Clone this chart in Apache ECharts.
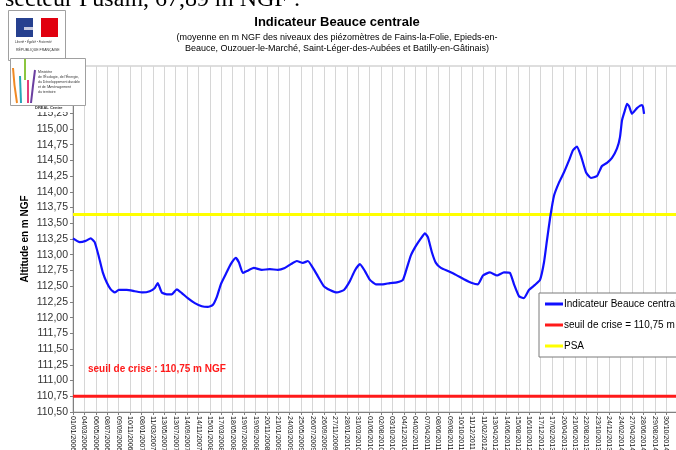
<!DOCTYPE html>
<html>
<head>
<meta charset="utf-8">
<script src="https://cdn.jsdelivr.net/npm/echarts@6/dist/echarts.min.js"></script>
<style>
  html, body { margin: 0; padding: 0; background: #fff; }
  #chart { width: 676px; height: 450px; }
</style>
</head>
<body>
<div id="chart"></div>
<script>
// dates shown under the x axis (one per grid column)
var tickLabels = [
  '01/01/2006', '04/03/2006', '06/05/2006', '08/07/2006', '09/09/2006', '10/11/2006',
  '08/01/2007', '11/03/2007', '13/05/2007', '13/07/2007', '14/09/2007', '14/11/2007',
  '15/01/2008', '17/03/2008', '18/05/2008', '19/07/2008', '19/09/2008', '20/11/2008',
  '21/01/2009', '24/03/2009', '25/05/2009', '26/07/2009', '26/09/2009', '27/11/2009',
  '28/01/2010', '31/03/2010', '01/06/2010', '02/08/2010', '03/10/2010', '04/12/2010',
  '04/02/2011', '07/04/2011', '08/06/2011', '09/08/2011', '10/10/2011', '11/12/2011',
  '11/02/2012', '13/04/2012', '14/06/2012', '15/08/2012', '16/10/2012', '17/12/2012',
  '17/02/2013', '20/04/2013', '21/06/2013', '22/08/2013', '23/10/2013', '24/12/2013',
  '24/02/2014', '27/04/2014', '28/06/2014', '29/08/2014', '30/10/2014'
];

// position of each reading along the axis (in tick-label units) and its level (m NGF)
var pos = [
  0.00, 0.59, 1.11, 1.55, 1.90, 2.25, 2.61, 2.96, 3.31, 3.66, 4.01, 4.71, 5.41, 6.11,
  6.73, 7.17, 7.43, 7.78, 8.22, 8.66, 9.10, 9.54, 10.06, 10.68, 11.29, 11.82, 12.25,
  12.61, 12.96, 13.39, 13.83, 14.27, 14.54, 14.89, 15.24, 15.85, 16.55, 17.25, 17.96,
  18.57, 19.10, 19.62, 20.15, 20.59, 21.03, 21.46, 21.99, 22.52, 23.13, 23.75, 24.27,
  24.71, 25.15, 25.59, 26.03, 26.55, 27.17, 27.78, 28.39, 28.92, 29.27, 29.62, 30.06,
  30.50, 30.85, 31.11, 31.46, 31.81, 32.25, 32.87, 33.57, 34.27, 34.97, 35.50, 35.94,
  36.55, 37.17, 37.78, 38.31, 38.66, 39.10, 39.53, 39.97, 40.50, 40.94, 41.29, 41.55,
  41.82, 42.17, 42.61, 43.04, 43.48, 43.83, 44.18, 44.53, 44.97, 45.40, 45.93, 46.37,
  46.81, 47.25, 47.69, 47.95, 48.13, 48.39, 48.57, 48.75, 49.00, 49.44, 49.88, 49.97,
  50.06
];
var level = [
  113.26, 113.20, 113.22, 113.26, 113.20, 112.98, 112.72, 112.56, 112.45, 112.40, 112.44,
  112.44, 112.42, 112.40, 112.42, 112.47, 112.55, 112.40, 112.37, 112.37, 112.45, 112.39,
  112.31, 112.23, 112.18, 112.17, 112.20, 112.33, 112.53, 112.69, 112.85, 112.95, 112.88,
  112.71, 112.74, 112.79, 112.76, 112.77, 112.76, 112.79, 112.85, 112.90, 112.87, 112.90,
  112.79, 112.66, 112.50, 112.44, 112.40, 112.44, 112.58, 112.75, 112.85, 112.74, 112.60,
  112.53, 112.53, 112.55, 112.56, 112.60, 112.79, 112.99, 113.14, 113.26, 113.34, 113.28,
  113.04, 112.87, 112.79, 112.74, 112.68, 112.61, 112.55, 112.53, 112.67, 112.72, 112.67,
  112.72, 112.71, 112.53, 112.34, 112.31, 112.44, 112.52, 112.60, 112.88, 113.23, 113.58,
  113.94, 114.15, 114.31, 114.50, 114.66, 114.72, 114.57, 114.31, 114.22, 114.25, 114.41,
  114.46, 114.54, 114.69, 114.87, 115.14, 115.30, 115.40, 115.36, 115.24, 115.33, 115.38,
  115.35, 115.24
];

var seuilCrise = 110.75;
var psa = 113.64;
var xMax = 54;

var indicateur = pos.map(function(p, i) { return [p, level[i]]; });

var chart = echarts.init(document.getElementById('chart'));
chart.setOption({
  animation: false,
  textStyle: { fontFamily: 'Liberation Sans, Arial, sans-serif' },
  title: {
    text: 'Indicateur Beauce centrale',
    subtext: '(moyenne en m NGF des niveaux des piézomètres de Fains-la-Folie, Epieds-en-\nBeauce, Ouzouer-le-Marché, Saint-Léger-des-Aubées et Batilly-en-Gâtinais)',
    left: 332,
    textAlign: 'center',
    top: 11,
    itemGap: 3,
    textStyle: { fontSize: 13, fontWeight: 'bold', color: '#000' },
    subtextStyle: { fontSize: 9, color: '#000', lineHeight: 11 }
  },
  grid: {
    left: 73,
    top: 66,
    bottom: 38,
    width: 616,
    outerBoundsMode: 'none',
    containLabel: false,
    show: true,
    borderColor: '#bdbdbd',
    borderWidth: 1
  },
  legend: {
    orient: 'vertical',
    left: 539,
    top: 293,
    padding: [6, 60, 6, 6],
    itemGap: 11,
    itemWidth: 18,
    itemHeight: 3,
    icon: 'rect',
    borderColor: '#7a7a7a',
    borderWidth: 1,
    backgroundColor: '#fff',
    textStyle: { fontSize: 10, color: '#000', padding: [0, 0, 0, -4] },
    data: ['Indicateur Beauce centrale', 'seuil de crise = 110,75 m', 'PSA']
  },
  xAxis: {
    type: 'value',
    min: 0,
    max: xMax,
    interval: 1,
    axisLine: { show: true, lineStyle: { color: '#808080' } },
    axisTick: { show: true, length: 3, lineStyle: { color: '#808080' } },
    splitLine: { show: true, lineStyle: { color: '#d6d6d6', width: 1 } },
    axisLabel: {
      rotate: -90,
      fontSize: 7,
      color: '#111',
      margin: 4,
      formatter: function(v) { return tickLabels[v] || ''; }
    }
  },
  yAxis: {
    type: 'value',
    min: 110.5,
    max: 116,
    interval: 0.25,
    name: 'Altitude en m NGF',
    nameLocation: 'middle',
    nameGap: 43,
    nameMoveOverlap: false,
    nameTextStyle: { fontSize: 10, fontWeight: 'bold', color: '#000' },
    axisLine: { show: true, lineStyle: { color: '#808080' } },
    axisTick: { show: true, length: 3, lineStyle: { color: '#808080' } },
    splitLine: { show: false },
    axisLabel: {
      fontSize: 10.5,
      color: '#333',
      margin: 5,
      formatter: function(v) { return v.toFixed(2).replace('.', ','); }
    }
  },
  series: [
    {
      name: 'Indicateur Beauce centrale',
      type: 'line',
      color: '#1010ff',
      showSymbol: false,
      smooth: 0.15,
      lineStyle: { width: 2.2, color: '#1010ff' },
      data: indicateur,
      z: 4
    },
    {
      name: 'seuil de crise = 110,75 m',
      type: 'line',
      color: '#ff1a1a',
      showSymbol: false,
      lineStyle: { width: 3, color: '#ff1a1a' },
      data: [[0, seuilCrise], [xMax, seuilCrise]],
      z: 3
    },
    {
      name: 'PSA',
      type: 'line',
      color: '#ffff00',
      showSymbol: false,
      lineStyle: { width: 3, color: '#ffff00' },
      data: [[0, psa], [xMax, psa]],
      z: 3
    }
  ],
  graphic: [
    // page text cut at the top
    {
      type: 'text', left: 5, top: -12, z: 10,
      style: { text: 'secteur Pusain, 67,89 m NGF :', font: '24px "Liberation Serif", serif', fill: '#000' }
    },
    // annotation inside the plot
    {
      type: 'text', left: 88, top: 364, z: 10,
      style: { text: 'seuil de crise : 110,75 m NGF', font: 'bold 10px "Liberation Sans", Arial', fill: '#ff1a1a' }
    },
    // Marianne logo
    {
      type: 'rect', z: 20, shape: { x: 8.5, y: 10.5, width: 57, height: 50 },
      style: { fill: '#fff', stroke: '#a0a0a0', lineWidth: 1 }
    },
    { type: 'rect', z: 21, shape: { x: 16, y: 18, width: 17, height: 19 }, style: { fill: '#26408f' } },
    { type: 'rect', z: 21, shape: { x: 41, y: 18, width: 17, height: 19 }, style: { fill: '#e1000f' } },
    {
      type: 'polygon', z: 21,
      shape: { points: [[33, 37], [34, 28], [37, 22], [40, 18], [41, 37]] },
      style: { fill: '#fff' }
    },
    { type: 'rect', z: 21, shape: { x: 24, y: 27, width: 9, height: 3 }, style: { fill: '#c8cbe0' } },
    {
      type: 'text', z: 21, left: 15, top: 41,
      style: { text: 'Liberté • Égalité • Fraternité', font: 'italic 3px Arial', fill: '#333' }
    },
    {
      type: 'text', z: 21, left: 16, top: 48,
      style: { text: 'RÉPUBLIQUE FRANÇAISE', font: '3.5px Arial', fill: '#333' }
    },
    // ministry logo
    {
      type: 'rect', z: 20, shape: { x: 10.5, y: 58.5, width: 75, height: 47 },
      style: { fill: '#fff', stroke: '#a0a0a0', lineWidth: 1 }
    },
    {
      type: 'bezierCurve', z: 21,
      shape: { x1: 13, y1: 68, x2: 17, y2: 103, cpx1: 14, cpy1: 85 },
      style: { stroke: '#f08a24', lineWidth: 2, fill: 'none' }
    },
    {
      type: 'line', z: 21, shape: { x1: 20, y1: 76, x2: 21, y2: 103 },
      style: { stroke: '#26a6b8', lineWidth: 2 }
    },
    {
      type: 'line', z: 21, shape: { x1: 25, y1: 59, x2: 25, y2: 80 },
      style: { stroke: '#8cc63f', lineWidth: 2 }
    },
    {
      type: 'line', z: 21, shape: { x1: 28, y1: 80, x2: 28, y2: 103 },
      style: { stroke: '#e23c7b', lineWidth: 2 }
    },
    {
      type: 'bezierCurve', z: 21,
      shape: { x1: 31, y1: 103, x2: 35, y2: 70, cpx1: 33, cpy1: 85 },
      style: { stroke: '#6b3fa0', lineWidth: 2, fill: 'none' }
    },
    {
      type: 'text', z: 21, left: 38, top: 70,
      style: {
        text: 'Ministère\nde l\'Écologie, de l\'Énergie,\ndu Développement durable\net de l\'Aménagement\ndu territoire',
        font: '3.5px Arial', lineHeight: 5, fill: '#333'
      }
    },
    { type: 'rect', z: 19, shape: { x: 20, y: 105, width: 52, height: 7 }, style: { fill: '#fff' } },
    {
      type: 'text', z: 21, left: 35, top: 106,
      style: { text: 'DREAL Centre', font: 'bold 4px Arial', fill: '#333' }
    }
  ]
});
</script>
</body>
</html>
